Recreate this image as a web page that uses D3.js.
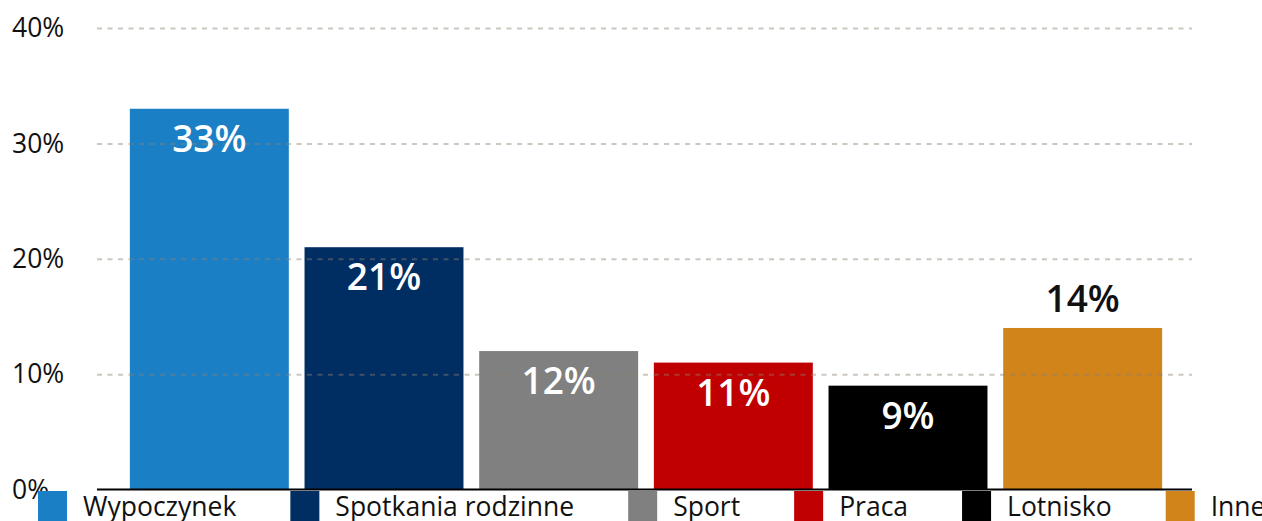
<!DOCTYPE html>
<html>
<head>
<meta charset="utf-8">
<script src="https://cdn.jsdelivr.net/npm/d3@7/dist/d3.min.js"></script>
<style>
  html, body { margin: 0; padding: 0; background: #fff; overflow: hidden; }
  svg { display: block; font-family: "Open Sans", "Noto Sans", sans-serif; }
</style>
</head>
<body>
<svg id="chart" width="1262" height="521"></svg>
<script>
// Categories, values (percent) and colours
const categories = ["Wypoczynek", "Spotkania rodzinne", "Sport", "Praca", "Lotnisko", "Inne"];
const values = [33, 21, 12, 11, 9, 14];
const colors = ["#1b7fc6", "#002d62", "#808080", "#c00000", "#000000", "#d0841a"];
const yTicks = [0, 10, 20, 30, 40];
// Labels drawn above the bar instead of inside it
const labelsAbove = ["Inne"];

const svg = d3.select("#chart");

const x = d3.scaleBand()
  .domain(categories)
  .range([122, 1170])
  .paddingInner(0.09)
  .paddingOuter(0.045);

const y = d3.scaleLinear()
  .domain([0, 40])
  .range([489.5, 28]);

const gridLeft = 97, gridRight = 1192;

// Bars
svg.append("g")
  .selectAll("rect")
  .data(categories)
  .join("rect")
  .attr("x", d => x(d))
  .attr("y", (d, i) => y(values[i]))
  .attr("width", x.bandwidth())
  .attr("height", (d, i) => y(0) - y(values[i]))
  .attr("fill", (d, i) => colors[i]);

// Dashed gridlines, drawn over the bars with a translucent stroke
const yAxis = d3.axisLeft(y)
  .tickValues(yTicks.filter(t => t > 0))
  .tickSize(-(gridRight - gridLeft))
  .tickFormat("");
const grid = svg.append("g")
  .attr("transform", `translate(${gridLeft},0)`)
  .call(yAxis);
grid.select(".domain").remove();
grid.selectAll(".tick line")
  .attr("stroke", "rgb(140,128,110)")
  .attr("stroke-opacity", 0.45)
  .attr("stroke-width", 2)
  .attr("stroke-dasharray", "5,5.5");

// Y tick labels
svg.append("g")
  .selectAll("text")
  .data(yTicks)
  .join("text")
  .attr("x", 12)
  .attr("y", d => y(d))
  .attr("dy", "0.35em")
  .attr("font-size", 26.5)
  .attr("fill", "#111")
  .text(d => d + "%");

// Baseline
svg.append("line")
  .attr("x1", gridLeft)
  .attr("x2", gridRight)
  .attr("y1", y(0))
  .attr("y2", y(0))
  .attr("stroke", "#000")
  .attr("stroke-width", 2);

// Value labels
svg.append("g")
  .selectAll("text")
  .data(categories)
  .join("text")
  .attr("x", d => x(d) + x.bandwidth() / 2)
  .attr("y", (d, i) => labelsAbove.includes(d) ? y(values[i]) - 16 : y(values[i]) + 43)
  .attr("text-anchor", "middle")
  .attr("font-size", 37)
  .attr("font-weight", 600)
  .attr("fill", d => labelsAbove.includes(d) ? "#111" : "#fff")
  .text((d, i) => values[i] + "%");

// Legend
const legend = svg.append("g");
let lx = 38;
categories.forEach((c, i) => {
  legend.append("rect")
    .attr("x", lx)
    .attr("y", 491)
    .attr("width", 29)
    .attr("height", 30)
    .attr("fill", colors[i]);
  const t = legend.append("text")
    .attr("x", lx + 45)
    .attr("y", 516)
    .attr("font-size", 26.5)
    .attr("fill", "#111")
    .text(c);
  lx += 45 + t.node().getComputedTextLength() + 54;
});
</script>
</body>
</html>
